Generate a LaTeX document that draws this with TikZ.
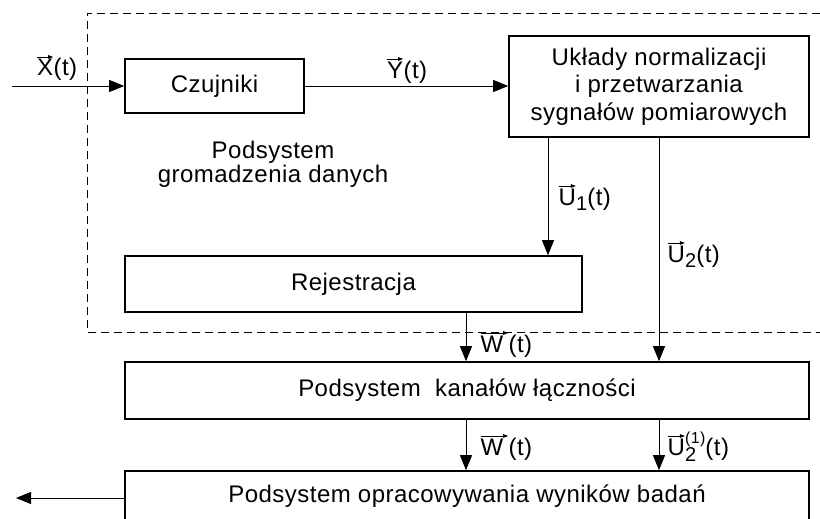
\documentclass[tikz,border=0pt]{standalone}
\usepackage{fontspec}
\setmainfont{Liberation Sans}[LetterSpace=2]
\usetikzlibrary{arrows.meta}
\newcommand\vecl[2][0pt]{\tikz[baseline=(vv.base)]{\node[inner sep=0pt,outer sep=0pt,draw=none] (vv) {#2};\draw[line width=0.7pt,-{Triangle[length=5pt,width=3.5pt]}] ([yshift=2.5pt]vv.north west) -- ([yshift=2.5pt,xshift=#1]vv.north east);}}
\begin{document}
\begin{tikzpicture}[x=1pt,y=-1pt,
  box/.style={draw, line width=1.6pt, rectangle, inner sep=0pt, align=center,
    font=\fontsize{24}{27.5}\selectfont},
  lbl/.style={inner sep=0pt, font=\fontsize{24}{24}\selectfont},
  arr/.style={line width=0.9pt, -{Triangle[length=15pt,width=12pt]}},
  dsh/.style={line width=0.8pt, dash pattern=on 8pt off 5pt}]
\useasboundingbox (0,0) rectangle (820,519);
\clip (0,0) rectangle (820,519);
% dashed subsystem frame
\draw[dsh] (820,13) -- (87,13) -- (87,332) -- (820,332);
% boxes
\node[box, minimum width=179pt, minimum height=54pt] (cz) at (214.5,86) {Czujniki};
\node[box, minimum width=300pt, minimum height=101pt] (uk) at (659,86.5) {Układy normalizacji\\i przetwarzania\\sygnałów pomiarowych};
\node[box, minimum width=457pt, minimum height=56pt] (rej) at (353.5,284) {Rejestracja};
\node[box, minimum width=684pt, minimum height=57pt] (kan) at (467,390.5) {Podsystem \ kanałów łączności};
\node[box, minimum width=684pt, minimum height=54pt] (op) at (467,498) {};
\node[lbl, anchor=base] (opt) at (467,502) {Podsystem opracowywania wyników badań};
\node[lbl, anchor=base, align=center] (pg) at (273,182) {Podsystem\\gromadzenia danych};
% coordinates
\coordinate (xin) at (12,86);
\coordinate (xout) at (16,498);
\coordinate (u1) at (548,0);
\coordinate (wx) at (466,0);
% connectors
\draw[arr] (xin) -- (cz.west);
\draw[arr] (cz.east) -- (cz.east -| uk.west);
\draw[arr] (uk.south -| u1) -- (rej.north -| u1);
\draw[arr] (uk.south) -- (kan.north -| uk.south);
\draw[arr] (rej.south -| wx) -- (kan.north -| wx);
\draw[arr] (kan.south -| wx) -- (op.north -| wx);
\draw[arr] (kan.south -| uk.south) -- (op.north -| uk.south);
\draw[arr] (op.west) -- (xout);
% labels
\node[lbl, anchor=base] (lx) at (57,76) {\vecl{X}(t)};
\node[lbl, anchor=base] (ly) at (407,78) {\vecl{Y}(t)};
\node[lbl, anchor=base west] (lu1) at (558,205) {\vecl{U}\raisebox{-5pt}{\fontsize{20}{20}\selectfont 1}(t)};
\node[lbl, anchor=base west] (lu2) at (667,262) {\vecl{U}\raisebox{-5pt}{\fontsize{20}{20}\selectfont 2}(t)};
\node[lbl, anchor=base west] (lw1) at (480,352) {\vecl[5pt]{W}(t)};
\node[lbl, anchor=base west] (lw2) at (480,455) {\vecl[5pt]{W}(t)};
\node[lbl, anchor=base west] (lu3) at (667,455) {\vecl{U}\rlap{\raisebox{-6pt}{\fontsize{20}{20}\selectfont 2}}\raisebox{12pt}{\fontsize{16}{16}\selectfont(1)}(t)};
\end{tikzpicture}
\end{document}
